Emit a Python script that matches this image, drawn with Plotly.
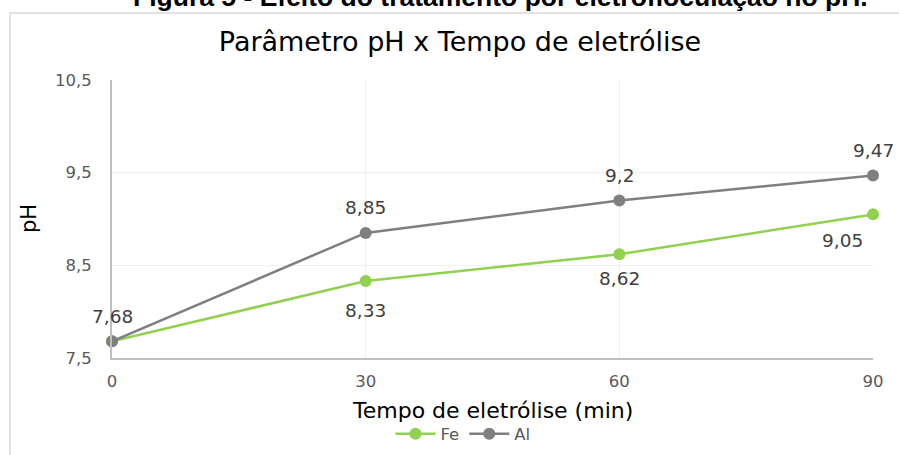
import plotly.graph_objects as go

# Tempo de eletrólise (min) e pH medido para cada eletrodo
tempo = [0, 30, 60, 90]
ph_fe = [7.68, 8.33, 8.62, 9.05]
ph_al = [7.68, 8.85, 9.20, 9.47]
y_ticks = [7.5, 8.5, 9.5, 10.5]
x_ticks = [0, 30, 60, 90]


def fmt(v):
    return f"{v:g}".replace(".", ",")


GREEN = "#92d050"
GRAY = "#7f7f7f"
W, H = 899, 455
ML, MR, MT, MB = 112, 26, 80, 97
PW, PH = W - ML - MR, H - MT - MB


def px(x):
    return (x - ML) / PW


def py(y):
    return 1 - (y - MT) / PH


LABEL_FONT = dict(family="DejaVu Sans, Verdana, sans-serif", size=18.5, color="#404040")
TICK_FONT = dict(family="DejaVu Sans, Verdana, sans-serif", size=16.5, color="#595959")

fig = go.Figure()

fig.add_trace(go.Scatter(
    x=tempo, y=ph_fe, name="Fe", mode="lines+markers",
    line=dict(color=GREEN, width=2.5), marker=dict(size=12, color=GREEN),
    cliponaxis=False,
))
fig.add_trace(go.Scatter(
    x=tempo, y=ph_al, name="Al", mode="lines+markers",
    line=dict(color=GRAY, width=2.5), marker=dict(size=12, color=GRAY),
    cliponaxis=False,
))

# Rótulos de dados: Al acima dos pontos, Fe abaixo (o de t=0 coincide com o do Al)
al_shift = [(0, 25), (0, 25), (0, 25), (0, 25)]
fe_shift = [None, (0, -29), (0, -24), (-31, -26)]
for t, v, s in zip(tempo, ph_al, al_shift):
    fig.add_annotation(x=t, y=v, text=fmt(v), showarrow=False, xshift=s[0], yshift=s[1],
                       xanchor="center", yanchor="middle", font=LABEL_FONT)
for t, v, s in zip(tempo, ph_fe, fe_shift):
    if s is None:
        continue
    fig.add_annotation(x=t, y=v, text=fmt(v), showarrow=False, xshift=s[0], yshift=s[1],
                       xanchor="center", yanchor="middle", font=LABEL_FONT)

fig.update_layout(
    width=W, height=H,
    margin=dict(l=ML, r=MR, t=MT, b=MB, autoexpand=False),
    paper_bgcolor="white", plot_bgcolor="white",
    title=dict(
        text="Parâmetro pH x Tempo de eletrólise",
        x=460 / W, xanchor="center", y=1 - 42 / H, yanchor="middle",
        font=dict(family="DejaVu Sans, Verdana, sans-serif", size=27, color="#000000"),
    ),
    xaxis=dict(
        range=[0, 90], tickvals=x_ticks, ticktext=[str(t) for t in x_ticks],
        showgrid=True, gridcolor="#f0f0f0", gridwidth=1,
        showline=True, linecolor="#bfbfbf", linewidth=2,
        zeroline=False, ticks="", ticklabelstandoff=7,
        tickfont=TICK_FONT, automargin=False,
    ),
    yaxis=dict(
        range=[7.5, 10.5], tickvals=y_ticks, ticktext=[fmt(t) for t in y_ticks],
        showgrid=True, gridcolor="#f0f0f0", gridwidth=1,
        showline=True, linecolor="#bfbfbf", linewidth=2,
        zeroline=False, ticks="", ticklabelstandoff=15,
        tickfont=TICK_FONT, automargin=False,
    ),
    showlegend=True,
    legend=dict(
        orientation="h", xref="container", x=463 / W, xanchor="center",
        yref="container", y=1 - 434 / H, yanchor="middle",
        font=dict(family="DejaVu Sans, Verdana, sans-serif", size=16.5, color="#595959"),
        itemwidth=40, tracegroupgap=0, bgcolor="rgba(0,0,0,0)",
    ),
)

# Títulos dos eixos
fig.add_annotation(
    text="Tempo de eletrólise (min)", xref="paper", yref="paper",
    x=px(492), y=py(410), xanchor="center", yanchor="middle", showarrow=False,
    font=dict(family="DejaVu Sans, Verdana, sans-serif", size=22, color="#000000"),
)
fig.add_annotation(
    text="pH", xref="paper", yref="paper", textangle=-90,
    x=px(29), y=py(219), xanchor="center", yanchor="middle", showarrow=False,
    font=dict(family="DejaVu Sans, Verdana, sans-serif", size=21, color="#000000"),
)

# Moldura do gráfico
fig.add_shape(type="rect", xref="paper", yref="paper",
              x0=px(10), x1=px(W + 20), y0=py(H + 20), y1=py(13),
              line=dict(color="#d9d9d9", width=1.5), fillcolor="rgba(0,0,0,0)", layer="below")

# Legenda da figura
fig.add_annotation(
    text="<b>Figura 5 - Efeito do tratamento por eletrofloculação no pH.</b>",
    xref="paper", yref="paper", x=px(501), y=py(-3),
    xanchor="center", yanchor="middle", showarrow=False,
    font=dict(family="Liberation Sans, Arial, sans-serif", size=26.5, color="#000000"),
)

fig.write_html("out.html")
